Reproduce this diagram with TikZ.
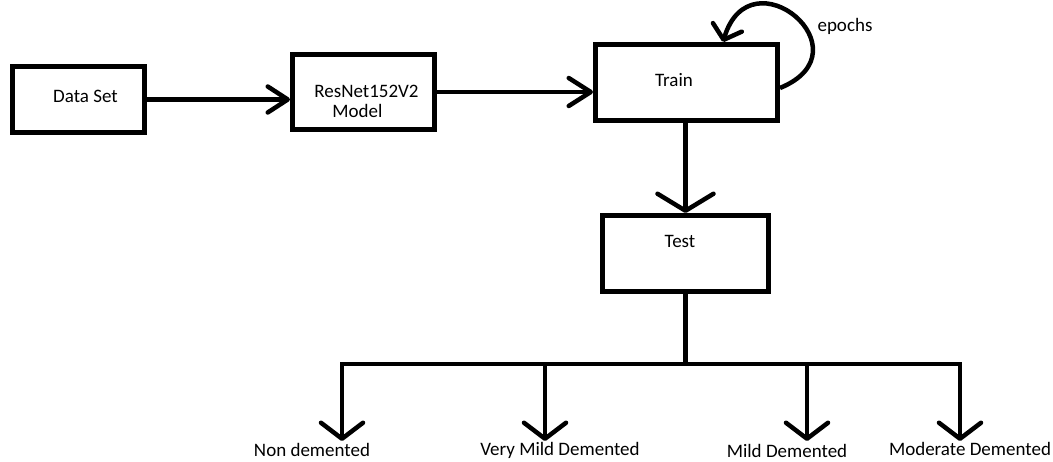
\documentclass[tikz,border=0pt]{standalone}
\usepackage{fontspec}
\setmainfont{Carlito}
\usetikzlibrary{arrows.meta}

\tikzset{
  box/.style={draw, line width=5pt, inner sep=0pt},
  lbl/.style={font=\fontsize{19}{22}\selectfont, anchor=base, inner sep=0pt},
  barb/.style 2 args={-{Straight Barb[length=#1,width=#2,round]}},
}

\begin{document}
\begin{tikzpicture}[x=1pt, y=1pt, line width=4.5pt]
\useasboundingbox (0,0) rectangle (1053,461);

\node[box, minimum width=132pt, minimum height=66pt] (dataset) at (78.5,361.5) {};
\node[box, minimum width=142pt, minimum height=75pt] (resnet) at (363.5,369) {};
\node[box, minimum width=182pt, minimum height=76pt] (train) at (686.5,378.5) {};
\node[box, minimum width=166pt, minimum height=76pt] (test) at (685.5,207.5) {};

\node[lbl] (datatxt) at (85.5,358) {Data Set};
\node[lbl] (resnettxt) at (366.5,363) {ResNet152V2};
\node[lbl] (modeltxt) at (357.5,343) {Model};
\node[lbl] (traintxt) at (674,374) {Train};
\node[lbl] (testtxt) at (680,213) {Test};
\node[lbl] (epochs) at (845,429) {epochs};

\draw[barb={20pt}{26pt}] (dataset.east) -- (dataset.east -| resnet.west);
\draw[barb={22pt}{28pt}] (resnet.east) -- (resnet.east -| train.west);
\draw[barb={17pt}{56pt}] (test.north |- train.south) -- (test.north);

\coordinate (loopstart) at (train.east |- 0,373);
\coordinate (looptip) at (723,419);
\draw[barb={13pt}{30pt}] (loopstart) .. controls +(90,37) and +(27,91) .. (looptip);

\coordinate (split) at (test.south |- 0,97);
\coordinate (nd) at (342,97);
\coordinate (vmd) at (545,97);
\coordinate (md) at (807,97);
\coordinate (mod) at (960,97);

\draw (test.south) -- (split);
\draw[line cap=rect] (nd) -- (mod);
\foreach \b in {nd,vmd,md,mod}
  \draw[barb={16pt}{42pt}] (\b) -- (\b |- 0,20);

\node[lbl] (nondem) at (312,5) {Non demented};
\node[lbl] (verymild) at (560,6) {Very Mild Demented};
\node[lbl] (mild) at (787,4) {Mild Demented};
\node[lbl] (moderate) at (970,6) {Moderate Demented};
\end{tikzpicture}
\end{document}
